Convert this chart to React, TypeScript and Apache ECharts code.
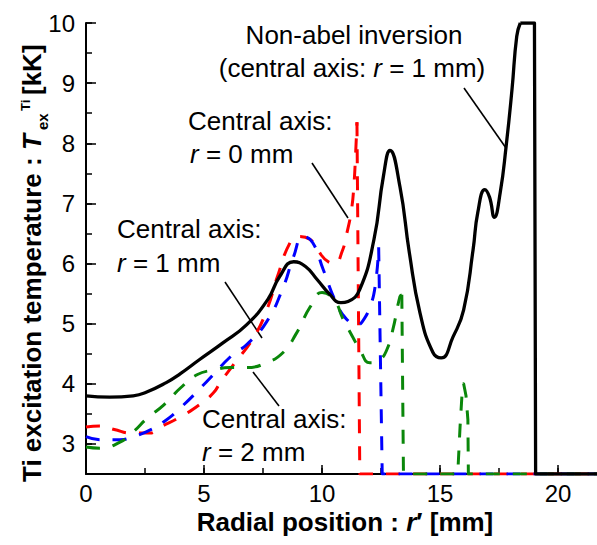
import React, { useEffect, useRef } from "react";
import * as echarts from "echarts";

const FONT = "'Liberation Sans', Arial, sans-serif";

// tick values
const xMajorTicks = [0, 5, 10, 15, 20];
const xMinorTicks = [0, 2.5, 5, 7.5, 10, 12.5, 15, 17.5, 20];
const yMajorTicks = [3, 4, 5, 6, 7, 8, 9, 10];
const yMinorTicks = [2.5, 3, 3.5, 4, 4.5, 5, 5.5, 6, 6.5, 7, 7.5, 8, 8.5, 9, 9.5, 10];

// Non-abel inversion (central axis r = 1 mm): smooth part and clipped/drop part
const blackCurve: [number, number][] = [
  [0, 3.8], [1, 3.78], [2, 3.8], [2.5, 3.85], [3.4, 4.02], [4.0, 4.17], [4.8, 4.4],
  [5.8, 4.68], [6.8, 4.98], [7.7, 5.4], [8.2, 5.78], [8.8, 6.03], [9.3, 5.95],
  [9.8, 5.73], [10.3, 5.5], [10.8, 5.35], [11.1, 5.37], [11.6, 5.57], [12.2, 6.4],
  [12.6, 7.45], [12.88, 7.88], [13.3, 7.28], [13.7, 6.18], [14.15, 5.18], [14.7, 4.52],
  [15.05, 4.43], [15.55, 4.78], [16.0, 5.23], [16.4, 6.23], [16.6, 6.85], [16.9, 7.23],
  [17.1, 7.1], [17.3, 6.77], [17.55, 7.18], [17.8, 7.95], [18.05, 8.9], [18.25, 9.78], [18.4, 10],
];
const blackDrop: [number, number][] = [[18.4, 10], [19.0, 10], [19.05, 2.5], [21.65, 2.5]];

// Central axis r = 0 mm
const redCurve: [number, number][] = [
  [0, 3.28], [0.6, 3.3], [1.2, 3.24], [1.9, 3.18], [2.7, 3.18], [3.1, 3.27], [4.0, 3.45],
  [4.8, 3.65], [5.4, 3.85], [5.7, 4.03], [6.25, 4.32], [7.1, 4.77], [7.7, 5.27], [8.1, 5.77],
  [8.65, 6.35], [9.0, 6.45], [9.5, 6.4], [9.8, 6.23], [10.3, 6.02], [10.55, 6.0], [10.85, 6.2],
  [11.05, 6.5], [11.25, 6.9], [11.35, 7.3], [11.42, 7.8], [11.48, 8.35],
];
const redDrop: [number, number][] = [[11.48, 8.35], [11.6, 2.5], [21.65, 2.5]];

// Central axis r = 1 mm
const blueCurve: [number, number][] = [
  [0, 3.12], [0.6, 3.07], [1.44, 3.07], [1.86, 3.1], [2.7, 3.23], [3.3, 3.37], [4.0, 3.6],
  [5.1, 4.03], [6.2, 4.48], [6.8, 4.65], [7.65, 5.03], [8.35, 5.6], [8.8, 6.12], [9.2, 6.45],
  [9.6, 6.35], [10.05, 5.9], [10.6, 5.35], [11.05, 5.07], [11.5, 4.98], [11.7, 5.03],
  [12.03, 5.28], [12.25, 5.62], [12.4, 6.27],
];
const blueDrop: [number, number][] = [[12.4, 6.27], [12.55, 2.5], [21.65, 2.5]];

// Central axis r = 2 mm
const greenCurve: [number, number][] = [
  [0, 2.95], [0.6, 2.93], [1.44, 3.03], [2.0, 3.2], [2.6, 3.43], [3.3, 3.65], [4.0, 3.93],
  [4.7, 4.15], [5.4, 4.23], [6.1, 4.27], [6.8, 4.27], [7.65, 4.35], [8.35, 4.52], [8.9, 4.83],
  [9.5, 5.28], [10.0, 5.52], [10.5, 5.4], [10.9, 5.07], [11.3, 4.78], [11.6, 4.57],
  [12.03, 4.35], [12.45, 4.4], [12.75, 4.57], [13.0, 4.9], [13.3, 5.45], [13.38, 5.48],
];
const greenDrop: [number, number][] = [
  [13.38, 5.48], [13.45, 2.5], [15.75, 2.5], [15.85, 3.3], [15.95, 3.95], [16.0, 4.0],
  [16.1, 3.8], [16.18, 3.4], [16.2, 2.5], [21.65, 2.5],
];

const RED = "#ff0000";
const BLUE = "#0000ff";
const GREEN = "#0a870a";
const DASH = [14, 13];

function curve(data: [number, number][], color: string, dashed: boolean, smooth: boolean) {
  return {
    type: "line",
    data,
    smooth: smooth ? 0.5 : false,
    showSymbol: false,
    symbol: "none",
    clip: true,
    lineStyle: { color, width: dashed ? 3 : 3.3, type: dashed ? DASH : "solid", cap: "butt", join: "round" },
    silent: true,
  };
}

const baseText = { fontFamily: FONT, fill: "#000" };

function annot(x: number, y: number, text: string, align: string, size = 26) {
  return {
    type: "text",
    x,
    y,
    style: {
      ...baseText,
      text,
      fontSize: size,
      align,
      verticalAlign: "middle",
      rich: {
        i: { fontFamily: FONT, fontSize: size, fontStyle: "italic", fill: "#000" },
      },
    },
  };
}

function leader(x1: number, y1: number, x2: number, y2: number) {
  return {
    type: "line",
    shape: { x1, y1, x2, y2 },
    style: { stroke: "#000", lineWidth: 1.6 },
  };
}

function rotText(x: number, y: number, text: string, size: number, italic = false) {
  return {
    type: "text",
    x,
    y,
    rotation: Math.PI / 2,
    style: {
      ...baseText,
      text,
      fontSize: size,
      fontWeight: "bold",
      fontStyle: italic ? "italic" : "normal",
      align: "left",
      verticalAlign: "middle",
    },
  };
}

export default function App() {
  const ref = useRef<HTMLDivElement>(null);
  useEffect(() => {
    if (!ref.current) return;
    const chart = echarts.init(ref.current, undefined, { renderer: "svg" });
    const axisCommon = {
      type: "value",
      splitLine: { show: false },
      axisLine: { show: true, onZero: false, lineStyle: { color: "#000", width: 2 } },
    };
    chart.setOption({
      animation: false,
      backgroundColor: "#fff",
      grid: { left: 86, right: 0, top: 23, bottom: 71, containLabel: false },
      xAxis: [
        {
          ...axisCommon,
          min: 0,
          max: 21.65,
          interval: 2.5,
          position: "bottom",
          axisTick: { show: true, inside: true, length: 6, customValues: xMinorTicks, lineStyle: { color: "#000", width: 1.5 } },
          axisLabel: {
            customValues: xMajorTicks,
            formatter: (v: number) => (Math.abs(v % 5) < 1e-6 ? String(v) : ""),
            fontSize: 24,
            lineHeight: 20,
            fontFamily: FONT,
            color: "#000",
            margin: 9,
          },
        },
        {
          ...axisCommon,
          min: 0,
          max: 21.65,
          interval: 2.5,
          position: "bottom",
          axisLine: { show: false },
          axisTick: { show: true, inside: true, length: 9, customValues: xMajorTicks, lineStyle: { color: "#000", width: 1.5 } },
          axisLabel: { show: false },
        },
      ],
      yAxis: [
        {
          ...axisCommon,
          min: 2.5,
          max: 10,
          interval: 0.5,
          position: "left",
          axisTick: { show: true, inside: true, length: 6, customValues: yMinorTicks, lineStyle: { color: "#000", width: 1.5 } },
          axisLabel: {
            customValues: yMajorTicks,
            formatter: (v: number) => (Number.isInteger(v) && v >= 3 ? String(v) : ""),
            fontSize: 24,
            fontFamily: FONT,
            color: "#000",
            margin: 11,
          },
        },
        {
          ...axisCommon,
          min: 2.5,
          max: 10,
          interval: 0.5,
          position: "left",
          axisLine: { show: false },
          axisTick: { show: true, inside: true, length: 10, customValues: yMajorTicks, lineStyle: { color: "#000", width: 1.5 } },
          axisLabel: { show: false },
        },
      ],
      series: [
        curve(redCurve, RED, true, true),
        curve(redDrop, RED, true, false),
        curve(blueCurve, BLUE, true, true),
        curve(blueDrop, BLUE, true, false),
        curve(greenCurve, GREEN, true, true),
        curve(greenDrop, GREEN, true, false),
        curve(blackCurve, "#000", false, true),
        curve(blackDrop, "#000", false, false),
      ],
      graphic: [
        annot(354, 35, "Non-abel inversion", "center"),
        annot(352, 68, "(central axis: {i|r} = 1 mm)", "center"),
        annot(188, 121, "Central axis:", "left"),
        annot(190, 154, "{i|r} = 0 mm", "left"),
        annot(117, 229, "Central axis:", "left"),
        annot(117, 263, "{i|r} = 1 mm", "left"),
        annot(202, 419, "Central axis:", "left"),
        annot(202, 452, "{i|r} = 2 mm", "left"),
        leader(464, 88, 506, 148),
        leader(312, 163, 348, 218),
        leader(225, 282, 262, 338),
        leader(253, 372, 279, 406),
        {
          type: "text",
          x: 345,
          y: 522,
          style: {
            ...baseText,
            text: "Radial position : {bi|r}{b|′ [mm]}",
            fontSize: 26,
            fontWeight: "bold",
            lineHeight: 20,
            align: "center",
            verticalAlign: "middle",
            rich: {
              bi: { fontFamily: FONT, fontSize: 26, lineHeight: 20, fontWeight: "bold", fontStyle: "italic", fill: "#000" },
              b: { fontFamily: FONT, fontSize: 26, lineHeight: 20, fontWeight: "bold", fill: "#000" },
            },
          },
        },
        rotText(32, 482, "Ti excitation temperature : ", 26),
        rotText(32, 150, "T", 26, true),
        rotText(42, 130, "ex", 15),
        rotText(25.5, 111, "Ti", 13),
        rotText(32, 95, "[kK]", 26),
      ],
    });
    return () => chart.dispose();
  }, []);
  return (
    <div
      ref={ref}
      style={{ position: "fixed", left: 0, top: 0, width: 597, height: 545, background: "#fff" }}
    />
  );
}
